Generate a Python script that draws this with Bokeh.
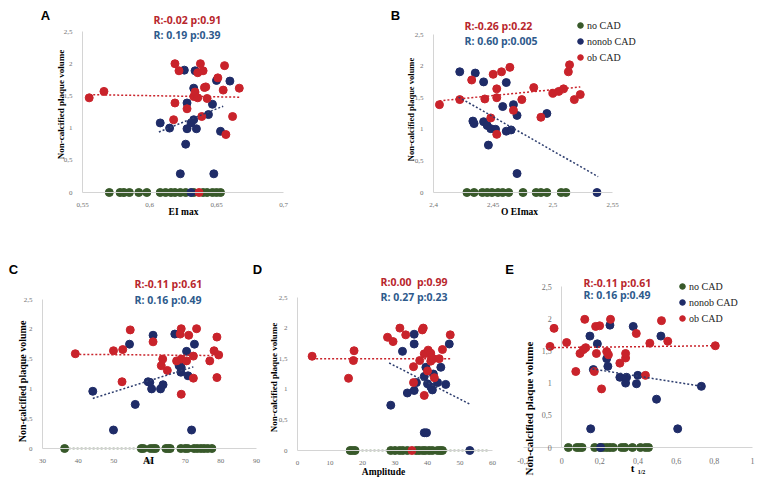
import math
from bokeh.plotting import figure
from bokeh.layouts import row, column
from bokeh.models import Label, Legend, LegendItem, FixedTicker, CustomJSTickFormatter
from bokeh.embed import file_html
from bokeh.resources import INLINE

# ---------------- data ----------------
# Panel A: EI max
a_no_x = [0.570, 0.578, 0.581, 0.585, 0.592, 0.598, 0.608, 0.612, 0.616, 0.619, 0.623, 0.627, 0.633, 0.640, 0.643, 0.647, 0.650, 0.653]
a_no_y = [0, 0, 0, 0, 0, 0, 0, 0, 0, 0, 0, 0, 0, 0, 0, 0, 0, 0]
a_nonob_x = [0.626, 0.634, 0.633, 0.628, 0.608, 0.615, 0.631, 0.633, 0.628, 0.635, 0.627, 0.644, 0.647, 0.650, 0.660, 0.653, 0.623, 0.648, 0.631]
a_nonob_y = [1.90, 1.89, 1.62, 1.39, 1.08, 1.00, 1.08, 1.13, 0.99, 0.99, 0.75, 1.21, 1.37, 1.74, 1.73, 0.95, 0.29, 0.29, 0.00]
a_ob_x = [0.555, 0.566, 0.619, 0.622, 0.619, 0.618, 0.628, 0.638, 0.636, 0.640, 0.633, 0.634, 0.636, 0.641, 0.642, 0.643, 0.639, 0.651, 0.656, 0.655, 0.667, 0.662, 0.657, 0.637]
a_ob_y = [1.47, 1.57, 2.00, 1.89, 1.39, 1.13, 1.30, 2.00, 1.86, 1.89, 1.49, 1.56, 1.47, 1.63, 1.64, 1.46, 1.18, 1.78, 1.97, 1.59, 1.62, 1.18, 0.90, 0.00]
a_trend_ob_x = [0.555, 0.667]
a_trend_ob_y = [1.52, 1.48]
a_trend_nonob_x = [0.607, 0.655]
a_trend_nonob_y = [0.94, 1.34]
a_xticks = [0.55, 0.6, 0.65, 0.7]

# Panel B: O EImax
b_no_x = [2.428, 2.434, 2.441, 2.445, 2.449, 2.454, 2.458, 2.463, 2.475, 2.486, 2.490, 2.495, 2.507, 2.511]
b_no_y = [0, 0, 0, 0, 0, 0, 0, 0, 0, 0, 0, 0, 0, 0]
b_nonob_x = [2.422, 2.435, 2.442, 2.461, 2.458, 2.467, 2.470, 2.495, 2.433, 2.434, 2.442, 2.445, 2.448, 2.452, 2.461, 2.465, 2.446, 2.470, 2.537]
b_nonob_y = [1.91, 1.89, 1.75, 1.74, 1.36, 1.39, 1.22, 1.25, 1.13, 1.09, 1.12, 1.06, 1.01, 1.00, 0.97, 0.99, 0.75, 0.30, 0.00]
b_ob_x = [2.405, 2.422, 2.432, 2.443, 2.450, 2.457, 2.464, 2.453, 2.453, 2.448, 2.453, 2.467, 2.474, 2.484, 2.490, 2.500, 2.505, 2.509, 2.513, 2.514, 2.518, 2.523]
b_ob_y = [1.39, 1.47, 1.78, 1.48, 1.87, 1.91, 1.98, 1.64, 1.50, 1.18, 0.92, 1.30, 1.47, 1.66, 1.19, 1.57, 1.60, 1.64, 1.91, 2.02, 1.47, 1.55]
b_trend_ob_x = [2.405, 2.523]
b_trend_ob_y = [1.45, 1.67]
b_trend_nonob_x = [2.421, 2.538]
b_trend_nonob_y = [1.51, 0.25]
b_xticks = [2.4, 2.45, 2.5, 2.55]

# Panel C: AI
c_no_x = [36.2, 57.7, 58.3, 60.3, 61.1, 61.7, 64.6, 65.3, 65.8, 68.8, 70.0, 70.7, 72.5, 73.4, 74.4, 75.3, 76.3, 77.5]
c_no_y = [0, 0, 0, 0, 0, 0, 0, 0, 0, 0, 0, 0, 0, 0, 0, 0, 0, 0]
c_nonob_x = [44.1, 49.9, 54.4, 56.0, 61.0, 59.6, 60.1, 60.6, 63.1, 63.8, 67.1, 68.3, 68.9, 68.8, 70.4, 70.8, 72.6, 71.8]
c_nonob_y = [0.96, 0.31, 1.75, 0.74, 1.90, 1.12, 1.11, 1.00, 1.00, 1.07, 1.92, 1.39, 1.36, 1.28, 1.63, 1.22, 1.75, 0.31]
c_ob_x = [39.2, 49.9, 52.5, 54.6, 52.3, 61.0, 63.7, 63.3, 65.0, 67.6, 68.9, 68.6, 68.9, 70.4, 71.0, 73.2, 72.3, 72.3, 68.9, 76.9, 78.1, 78.9, 79.4, 78.9]
c_ob_y = [1.59, 1.64, 1.66, 1.99, 1.12, 1.79, 1.50, 1.39, 1.31, 1.47, 2.01, 1.92, 1.50, 1.47, 1.90, 2.01, 1.55, 1.18, 0.91, 1.47, 1.64, 1.87, 1.57, 1.19]
c_trend_ob_x = [39.2, 79.4]
c_trend_ob_y = [1.58, 1.56]
c_trend_nonob_x = [44.1, 72.3]
c_trend_nonob_y = [0.84, 1.37]
c_trend_no_x = [36.2, 77.5]
c_trend_no_y = [0, 0]
c_xticks = [30, 40, 50, 60, 70, 80, 90]

# Panel D: Amplitude
d_no_x = [16.2, 16.9, 17.7, 28.7, 30.0, 31.4, 32.4, 33.8, 36.5, 37.4, 38.5, 39.3, 40.5, 41.5, 43.1, 43.9, 44.6]
d_no_y = [0, 0, 0, 0, 0, 0, 0, 0, 0, 0, 0, 0, 0, 0, 0, 0, 0]
d_nonob_x = [32.3, 35.9, 35.9, 35.9, 33.8, 36.6, 28.7, 39.0, 39.5, 40.0, 41.0, 41.5, 41.8, 43.1, 44.1, 45.6, 46.7, 39.0, 39.7, 53.0]
d_nonob_y = [1.62, 1.90, 1.74, 0.98, 0.94, 1.11, 0.74, 1.21, 1.36, 1.09, 1.04, 0.99, 1.25, 1.11, 1.36, 1.08, 1.74, 0.29, 0.29, 0.00]
d_ob_x = [4.5, 17.4, 17.2, 15.7, 27.7, 29.4, 31.5, 33.3, 38.7, 38.4, 37.6, 35.7, 35.7, 39.0, 39.0, 40.2, 41.0, 41.2, 41.0, 41.8, 43.6, 40.0, 42.1, 44.6, 47.0, 35.2]
d_ob_y = [1.54, 1.63, 1.47, 1.18, 1.85, 1.78, 2.00, 1.89, 2.00, 1.97, 1.47, 1.37, 1.11, 0.90, 1.58, 1.64, 1.59, 1.52, 1.46, 1.50, 1.50, 1.30, 1.19, 1.65, 1.89, 0.00]
d_trend_ob_x = [4.5, 47.0]
d_trend_ob_y = [1.50, 1.50]
d_trend_nonob_x = [28.2, 53.3]
d_trend_nonob_y = [1.43, 0.75]
d_trend_no_x = [16.0, 59.0]
d_trend_no_y = [0, 0]
d_xticks = [0, 10, 20, 30, 40, 50, 60]

# Panel E: t 1/2
e_no_x = [0.035, 0.079, 0.093, 0.107, 0.173, 0.201, 0.218, 0.236, 0.253, 0.270, 0.314, 0.331, 0.371, 0.413, 0.439, 0.455]
e_no_y = [0, 0, 0, 0, 0, 0, 0, 0, 0, 0, 0, 0, 0, 0, 0, 0]
e_nonob_x = [0.148, 0.187, 0.166, 0.236, 0.242, 0.253, 0.305, 0.335, 0.340, 0.375, 0.392, 0.399, 0.520, 0.497, 0.732, 0.152, 0.608, 0.204]
e_nonob_y = [1.73, 1.61, 1.21, 1.38, 1.26, 1.90, 1.09, 1.00, 1.09, 1.88, 0.99, 1.12, 1.73, 0.75, 0.95, 0.29, 0.29, 0.00]
e_ob_x = [-0.061, -0.040, 0.026, 0.074, 0.096, 0.114, 0.121, 0.126, 0.171, 0.182, 0.178, 0.199, 0.209, 0.236, 0.245, 0.256, 0.305, 0.335, 0.335, 0.391, 0.439, 0.462, 0.523, 0.556, 0.805]
e_ob_y = [1.57, 1.85, 1.63, 1.18, 1.46, 1.52, 1.99, 1.55, 1.18, 1.46, 1.88, 1.89, 0.91, 1.49, 1.44, 1.99, 1.31, 1.39, 1.46, 1.77, 1.12, 1.62, 1.97, 1.65, 1.58]
e_trend_ob_x = [-0.061, 0.805]
e_trend_ob_y = [1.55, 1.58]
e_trend_nonob_x = [0.161, 0.736]
e_trend_nonob_y = [1.22, 0.95]
e_xticks = [-0.2, 0, 0.2, 0.4, 0.6, 0.8, 1]

y_ticks = [0, 0.5, 1, 1.5, 2, 2.5]
legend_labels = ["no CAD", "nonob CAD", "ob CAD"]
stats = {
    "A": ("R:-0.02 p:0.91", "R: 0.19 p:0.39"),
    "B": ("R:-0.26 p:0.22", "R: 0.60 p:0.005"),
    "C": ("R:-0.11 p:0.61", "R: 0.16 p:0.49"),
    "D": ("R:0.00\u00a0 p:0.99", "R: 0.27 p:0.23"),
    "E": ("R:-0.11 p:0.61", "R: 0.16 p:0.49"),
}

# ---------------- style ----------------
GREEN = "#38592a"
NAVY = "#1f2c68"
RED = "#c9232b"
TREND_BLUE = "#2d3d6e"
RED_TXT = "#b8262c"
BLUE_TXT = "#2e5a8c"
AXIS_GRAY = "#d4d4d4"
TICK_GRAY = "#6f6f6f"
SERIF = "Liberation Serif"
MS = 8
YTITLE = "Non-calcified plaque volume"


def make_panel(fx, fy, fw, fh, xlo, xhi, pxl, pxr, pyt, pyb, xticks, yaxis_at=None, tick_size="7px"):
    # the frame fills the whole figure; axes are pinned at data locations
    sx = (pxr - pxl) / (xhi - xlo)
    sy = (pyb - pyt) / 2.5
    x_start = xlo - (pxl - fx) / sx
    x_end = xhi + (fx + fw - pxr) / sx
    y_start = -(fy + fh - pyb) / sy
    y_end = 2.5 + (pyt - fy) / sy
    p = figure(width=fw, height=fh, x_range=(x_start, x_end), y_range=(y_start, y_end),
               output_backend="svg", toolbar_location=None,
               min_border=0, min_border_left=0, min_border_right=0,
               min_border_top=0, min_border_bottom=0)
    p.outline_line_color = None
    p.grid.visible = False
    p.background_fill_color = "white"
    p.border_fill_color = "white"
    fmt = CustomJSTickFormatter(code="return String(tick).replace('.', ',')")
    for ax in (p.xaxis[0], p.yaxis[0]):
        ax.axis_line_color = AXIS_GRAY
        ax.axis_line_width = 1
        ax.major_tick_line_color = None
        ax.minor_tick_line_color = None
        ax.major_label_text_font = SERIF
        ax.major_label_text_font_size = tick_size
        ax.major_label_text_color = TICK_GRAY
        ax.major_label_standoff = 4
        ax.formatter = fmt
    p.xaxis.ticker = FixedTicker(ticks=xticks)
    p.yaxis.ticker = FixedTicker(ticks=y_ticks)
    p.xaxis.fixed_location = 0
    p.xaxis.bounds = (xlo, xhi)
    p.yaxis.bounds = (0, 2.5)
    p.yaxis.fixed_location = xlo if yaxis_at is None else yaxis_at

    def X(px):
        return x_start + (px - fx) / sx

    def Y(py):
        return y_start + (fy + fh - py) / sy

    p._X, p._Y, p._fl, p._fb = X, Y, fx, fy + fh
    return p


def add_series(p, no_x, no_y, nonob_x, nonob_y, ob_x, ob_y):
    r1 = p.scatter(no_x, no_y, size=MS, color=GREEN, line_color=GREEN)
    r2 = p.scatter(nonob_x, nonob_y, size=MS, color=NAVY, line_color=NAVY)
    r3 = p.scatter(ob_x, ob_y, size=MS, color=RED, line_color=RED)
    return r1, r2, r3


def trend(p, xs, ys, color):
    p.line(xs, ys, line_color=color, line_width=1.5, line_dash="2 2")


def txt(p, px, py, text, size, color="black", font=SERIF, bold=True, align="left", angle=0.0):
    p.add_layout(Label(x=p._X(px), y=p._Y(py), text=text, text_font=font,
                       text_font_size=size, text_font_style="bold" if bold else "normal",
                       text_color=color, text_align=align, text_baseline="middle",
                       angle=angle))


def stat_text(p, key, px, py1, py2):
    txt(p, px, py1, stats[key][0], "10.5px", RED_TXT, "Open Sans")
    txt(p, px, py2, stats[key][1], "10.5px", BLUE_TXT, "Open Sans")


def letter(p, px, py, t):
    txt(p, px, py, t, "13px", "black", "Liberation Sans", align="center")


def legend(p, renderers, left_abs, top_abs):
    items = [LegendItem(label=l, renderers=[r]) for l, r in zip(legend_labels, renderers)]
    lg = Legend(items=items, location=(left_abs - p._fl, p._fb - (top_abs + 42)),
                orientation="vertical", glyph_width=14, glyph_height=16, label_height=16,
                spacing=-3, padding=0, margin=0, label_standoff=0,
                border_line_color=None, background_fill_alpha=0,
                label_text_font=SERIF, label_text_font_size="10px",
                label_text_color="#222222")
    p.add_layout(lg)


# ---------------- panels ----------------
pa = make_panel(0, 0, 300, 230, 0.55, 0.7, 82, 283, 31, 192, a_xticks)
add_series(pa, a_no_x, a_no_y, a_nonob_x, a_nonob_y, a_ob_x, a_ob_y)
trend(pa, a_trend_ob_x, a_trend_ob_y, RED)
trend(pa, a_trend_nonob_x, a_trend_nonob_y, TREND_BLUE)
letter(pa, 45, 15, "A")
stat_text(pa, "A", 153, 19, 34)
txt(pa, 60, 104, YTITLE, "9px", angle=math.pi / 2, align="center")
txt(pa, 183, 211, "EI max", "9.5px", align="center")

pb = make_panel(300, 0, 467, 230, 2.4, 2.55, 433, 612, 34, 192, b_xticks)
rb = add_series(pb, b_no_x, b_no_y, b_nonob_x, b_nonob_y, b_ob_x, b_ob_y)
trend(pb, b_trend_ob_x, b_trend_ob_y, RED)
trend(pb, b_trend_nonob_x, b_trend_nonob_y, TREND_BLUE)
letter(pb, 395, 15, "B")
stat_text(pb, "B", 464, 25, 40)
txt(pb, 410, 109, YTITLE, "8.5px", angle=math.pi / 2, align="center")
txt(pb, 519, 211, "O EImax", "9.5px", align="center")
legend(pb, rb, 573, 23)

pc = make_panel(0, 230, 262, 256, 30, 90, 42, 256, 299, 448, c_xticks)
add_series(pc, c_no_x, c_no_y, c_nonob_x, c_nonob_y, c_ob_x, c_ob_y)
trend(pc, c_trend_no_x, c_trend_no_y, GREEN)
trend(pc, c_trend_ob_x, c_trend_ob_y, RED)
trend(pc, c_trend_nonob_x, c_trend_nonob_y, TREND_BLUE)
letter(pc, 13, 269, "C")
letter(pc, 257, 269, "D")
stat_text(pc, "C", 134, 283, 299)
txt(pc, 22, 381, YTITLE, "10px", angle=math.pi / 2, align="center")
txt(pc, 148, 460, "AI", "10px", align="center")

pd = make_panel(262, 230, 238, 256, 0, 60, 297, 492, 297, 450, d_xticks)
add_series(pd, d_no_x, d_no_y, d_nonob_x, d_nonob_y, d_ob_x, d_ob_y)
trend(pd, d_trend_no_x, d_trend_no_y, GREEN)
trend(pd, d_trend_ob_x, d_trend_ob_y, RED)
trend(pd, d_trend_nonob_x, d_trend_nonob_y, TREND_BLUE)
stat_text(pd, "D", 380, 281, 296)
txt(pd, 273, 377, YTITLE, "9px", angle=math.pi / 2, align="center")
txt(pd, 383, 471, "Amplitude", "9.5px", align="center")

pe = make_panel(500, 230, 267, 256, -0.2, 1.0, 523, 752, 286, 447, e_xticks, yaxis_at=0, tick_size="8px")
re_ = add_series(pe, e_no_x, e_no_y, e_nonob_x, e_nonob_y, e_ob_x, e_ob_y)
trend(pe, e_trend_ob_x, e_trend_ob_y, RED)
trend(pe, e_trend_nonob_x, e_trend_nonob_y, TREND_BLUE)
letter(pe, 509, 269, "E")
stat_text(pe, "E", 583, 282, 294)
txt(pe, 528, 408, YTITLE, "11px", angle=math.pi / 2, align="center")
txt(pe, 632, 467, "t", "11px", align="center")
txt(pe, 641, 471, "1/2", "6px", align="center")
legend(pe, re_, 675, 284)

layout = column(row(pa, pb), row(pc, pd, pe))
open("out.html", "w").write(file_html(layout, INLINE))
